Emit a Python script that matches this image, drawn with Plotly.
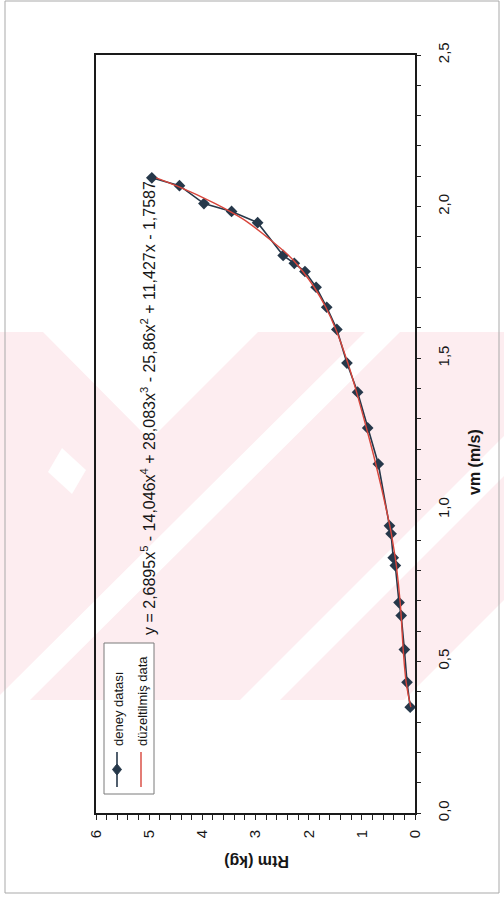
import numpy as np
import plotly.graph_objects as go

# ---------------- data ----------------
vm = [2.095, 2.069, 2.010, 1.984, 1.947, 1.839, 1.813, 1.786, 1.734, 1.668,
      1.595, 1.484, 1.388, 1.270, 1.151, 0.947, 0.921, 0.842, 0.816, 0.694,
      0.651, 0.539, 0.431, 0.349]
rtm = [4.95, 4.43, 3.97, 3.45, 2.96, 2.48, 2.27, 2.07, 1.86, 1.66,
       1.47, 1.28, 1.08, 0.89, 0.69, 0.48, 0.45, 0.41, 0.37, 0.30,
       0.26, 0.20, 0.15, 0.09]
# polynomial printed on the chart (trendline "düzeltilmiş data")
coeffs = [2.6895, -14.046, 28.083, -25.86, 11.427, -1.7587]
rtm_fit = list(np.polyval(coeffs, vm))

rtm_ticks = [0, 1, 2, 3, 4, 5, 6]
vm_ticks = [0.0, 0.5, 1.0, 1.5, 2.0, 2.5]

series_names = ["deney datası", "düzeltilmiş data"]
x_title = "vm (m/s)"
y_title = "Rtm (kg)"
equation = ("y = 2,6895x<sup>5</sup> - 14,046x<sup>4</sup> + 28,083x<sup>3</sup> - "
            "25,86x<sup>2</sup> + 11,427x - 1,7587")

# ---------------- geometry ----------------
W, H = 504, 897
L, R, T, B = 96, 415, 55, 813


def px(x):
    return (x - L) / (R - L)


def py(y):
    return (B - y) / (B - T)


def path(pts):
    s = "M " + " L ".join(f"{px(x):.5f},{py(y):.5f}" for x, y in pts) + " Z"
    return s


FONT = "Liberation Sans, Arial, sans-serif"
DARK = "#26384a"
RED = "#d8453b"
PINK = "#fdedf0"
TXT = "#161616"

fig = go.Figure()
fig.add_trace(go.Scatter(
    x=rtm, y=vm, mode="lines+markers", name=series_names[0],
    line=dict(color=DARK, width=1.6),
    marker=dict(symbol="diamond", size=9, color=DARK),
    showlegend=False))
fig.add_trace(go.Scatter(
    x=rtm_fit, y=vm, mode="lines", name=series_names[1],
    line=dict(color=RED, width=1.4, shape="spline"),
    showlegend=False))

shapes = []
# watermark (scan background)
shapes.append(dict(type="path", xref="paper", yref="paper", layer="below",
                   path=path([(0, 332), (43, 332), (150, 440), (258, 332),
                              (504, 332), (504, 600), (404, 700), (0, 700)]),
                   fillcolor=PINK, line=dict(width=0)))
shapes.append(dict(type="path", xref="paper", yref="paper", layer="below",
                   path=path([(365, 332), (400, 332), (30, 700), (-5, 700)]),
                   fillcolor="white", line=dict(width=0)))
shapes.append(dict(type="path", xref="paper", yref="paper", layer="below",
                   path=path([(504, 436), (504, 476), (280, 700), (240, 700)]),
                   fillcolor="white", line=dict(width=0)))
shapes.append(dict(type="path", xref="paper", yref="paper", layer="below",
                   path=path([(62, 448), (86, 470), (72, 494), (48, 472)]),
                   fillcolor="white", line=dict(width=0)))
# page frame
shapes.append(dict(type="rect", xref="paper", yref="paper", layer="below",
                   x0=px(5), x1=px(499), y0=py(1), y1=py(893),
                   line=dict(color="#a9a9a9", width=1), fillcolor="rgba(0,0,0,0)"))
# legend box
shapes.append(dict(type="rect", xref="paper", yref="paper",
                   x0=px(104), x1=px(154), y0=py(643), y1=py(794),
                   line=dict(color="#7a7a7a", width=1), fillcolor="white"))
shapes.append(dict(type="line", xref="paper", yref="paper",
                   x0=px(117), x1=px(117), y0=py(752), y1=py(787),
                   line=dict(color=DARK, width=1.6)))
shapes.append(dict(type="path", xref="paper", yref="paper",
                   path=path([(117, 764), (121.5, 769.5), (117, 775), (112.5, 769.5)]),
                   fillcolor=DARK, line=dict(color=DARK, width=1)))
shapes.append(dict(type="line", xref="paper", yref="paper",
                   x0=px(141), x1=px(141), y0=py(752), y1=py(787),
                   line=dict(color=RED, width=1.4)))

annotations = [
    dict(text=equation, xref="paper", yref="paper", x=px(148), y=py(408),
         textangle=-90, showarrow=False, xanchor="center", yanchor="middle",
         font=dict(family=FONT, size=16, color=TXT)),
    dict(text=f"<b>{y_title}</b>", xref="paper", yref="paper", x=px(256), y=py(862),
         textangle=180, showarrow=False, xanchor="center", yanchor="middle",
         font=dict(family=FONT, size=16, color=TXT)),
    dict(text=f"<b>{x_title}</b>", xref="paper", yref="paper", x=px(474), y=py(462),
         textangle=-90, showarrow=False, xanchor="center", yanchor="middle",
         font=dict(family=FONT, size=16, color=TXT)),
    dict(text=series_names[0], xref="paper", yref="paper", x=px(118), y=py(748),
         textangle=-90, showarrow=False, xanchor="center", yanchor="bottom",
         font=dict(family=FONT, size=13, color=TXT)),
    dict(text=series_names[1], xref="paper", yref="paper", x=px(142), y=py(748),
         textangle=-90, showarrow=False, xanchor="center", yanchor="bottom",
         font=dict(family=FONT, size=13, color=TXT)),
]

fig.update_layout(
    width=W, height=H,
    margin=dict(l=L, r=W - R, t=T, b=H - B),
    paper_bgcolor="white", plot_bgcolor="rgba(0,0,0,0)",
    separators=",.",
    font=dict(family=FONT, size=12, color=TXT),
    shapes=shapes, annotations=annotations,
    showlegend=False,
)
fig.update_xaxes(
    range=[6, 0], tickvals=rtm_ticks, ticktext=[str(v) for v in rtm_ticks],
    tickangle=-90, ticks="outside", ticklen=5, tickcolor="#222", tickwidth=1,
    minor=dict(dtick=0.2, ticks="outside", ticklen=5, tickcolor="#222"),
    showgrid=False, zeroline=False, showline=True, linecolor="#1a1a1a",
    linewidth=1.6, mirror=True, tickfont=dict(size=15, color=TXT), ticklabelstandoff=4)
fig.update_yaxes(
    range=[0, 2.5], tickvals=vm_ticks, ticktext=[f"{v:.1f}".replace(".", ",") for v in vm_ticks],
    side="right", tickangle=-90, ticks="outside", ticklen=4, tickcolor="#222",
    minor=dict(dtick=0.1, ticks="outside", ticklen=4, tickcolor="#222"),
    showgrid=False, zeroline=False, showline=True, linecolor="#1a1a1a",
    linewidth=1.6, mirror=True, tickfont=dict(size=15, color=TXT), ticklabelstandoff=10)

fig.write_html("out.html", config={"displayModeBar": False},
               post_script="document.body.style.margin='0';")
